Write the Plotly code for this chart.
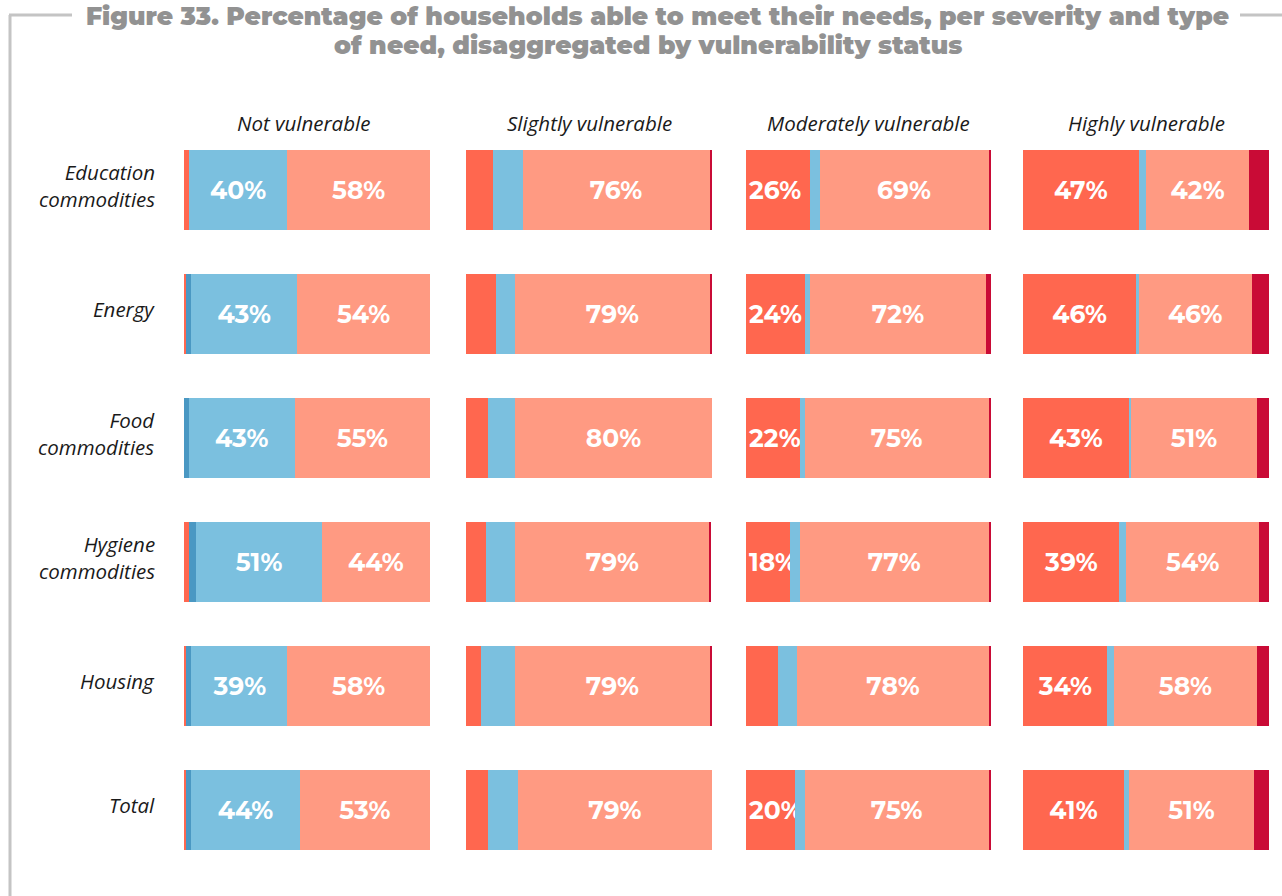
import plotly.graph_objects as go

# ---- data -------------------------------------------------------------
NEEDS = [
    "Education<br>commodities",
    "Energy",
    "Food<br>commodities",
    "Hygiene<br>commodities",
    "Housing",
    "Total",
]
GROUPS = ["Not vulnerable", "Slightly vulnerable", "Moderately vulnerable", "Highly vulnerable"]
TITLE_LINES = [
    "Figure 33. Percentage of households able to meet their needs, per severity and type",
    "of need, disaggregated by vulnerability status",
]

# one list per vulnerability group, six values (one per need) in each
unable = [
    [2, 1, 0, 2, 1, 1],
    [11, 12, 9, 8, 6, 9],
    [26, 24, 22, 18, 13, 20],
    [47, 46, 43, 39, 34, 41],
]
fully = [
    [0, 2, 2, 3, 2, 2],
    [0, 0, 0, 0, 0, 0],
    [0, 0, 0, 0, 0, 0],
    [0, 0, 0, 0, 0, 0],
]
mostly = [
    [40, 43, 43, 51, 39, 44],
    [12, 8, 11, 12, 14, 12],
    [4, 2, 2, 4, 8, 4],
    [3, 1, 1, 3, 3, 2],
]
partly = [
    [58, 54, 55, 44, 58, 53],
    [76, 79, 80, 79, 79, 79],
    [69, 72, 75, 77, 78, 75],
    [42, 46, 51, 54, 58, 51],
]
not_at_all = [
    [0, 0, 0, 0, 0, 0],
    [1, 1, 0.5, 0.5, 1, 0.5],
    [1, 2, 1, 1, 1, 1],
    [8, 7, 5, 4, 5, 6],
]

SEGMENTS = [
    ("Unable", unable, "#FF674F"),
    ("Fully", fully, "#4A98C3"),
    ("Mostly", mostly, "#7BC0DF"),
    ("Partly", partly, "#FF9A82"),
    ("Not at all", not_at_all, "#C90B36"),
]

LABEL_MIN = 15

# ---- layout helpers ---------------------------------------------------
W, H = 1282, 896
M_L, M_R, M_T, M_B = 184, 13, 128, 24
PW, PH = W - M_L - M_R, H - M_T - M_B


def px_x(px):
    return (px - M_L) / PW


def px_y(py):
    return (H - M_B - py) / PH


PANEL_PX = [(184, 430), (466, 712), (746, 991), (1023, 1269)]
italic = {"family": "Open Sans, sans-serif", "size": 20.5, "color": "#1a1a1a", "style": "italic"}

fig = go.Figure()

for g, group in enumerate(GROUPS):
    axis = "" if g == 0 else str(g + 1)
    for name, values, color in SEGMENTS:
        vals = values[g]
        shown = [v for v in vals if v >= LABEL_MIN]
        # narrow segments: labels start at the bar edge and spill right
        anchor = "start" if shown and min(shown) < 25 and name == "Unable" else "middle"
        fig.add_trace(
            go.Bar(
                x=vals,
                y=NEEDS,
                orientation="h",
                name=name,
                marker={"color": color, "line": {"width": 0}},
                text=[f"{v:.0f}%" if v >= LABEL_MIN else "" for v in vals],
                textposition="inside",
                insidetextanchor=anchor,
                textangle=0,
                constraintext="none",
                cliponaxis=False,
                textfont={"family": "Montserrat, Lato, sans-serif", "size": 25,
                          "color": "white", "weight": "bold"},
                xaxis="x" + axis,
                yaxis="y" + axis,
                showlegend=False,
                hoverinfo="skip",
            )
        )

layout = dict(
    barmode="stack",
    bargap=0.355,
    width=W,
    height=H,
    margin={"l": M_L, "r": M_R, "t": M_T, "b": M_B},
    plot_bgcolor="white",
    paper_bgcolor="white",
)

annotations = []
for g, (x0, x1) in enumerate(PANEL_PX):
    axis = "" if g == 0 else str(g + 1)
    layout["xaxis" + axis] = {
        "domain": [px_x(x0), px_x(x1)],
        "range": [0, 100],
        "visible": False,
        "fixedrange": True,
    }
    layout["yaxis" + axis] = {
        "anchor": "x" + axis,
        "autorange": "reversed",
        "showticklabels": False,
        "showgrid": False,
        "zeroline": False,
        "ticks": "",
    }
    if g:
        layout["yaxis" + axis]["matches"] = "y"
    annotations.append(
        {
            "text": GROUPS[g],
            "xref": "paper", "yref": "paper",
            "x": px_x((x0 + x1) / 2 - (4 if g == 0 else 0)), "y": px_y(123),
            "xanchor": "center", "yanchor": "middle",
            "showarrow": False,
            "font": italic,
        }
    )

# row labels
for need in NEEDS:
    annotations.append(
        {
            "text": need,
            "xref": "paper", "yref": "y",
            "x": px_x(157), "y": need,
            "xanchor": "right", "yanchor": "middle",
            "align": "right",
            "yshift": 5,
            "showarrow": False,
            "font": italic,
        }
    )

# title, one annotation per line
for i, line in enumerate(TITLE_LINES):
    annotations.append(
        {
            "text": line,
            "xref": "paper", "yref": "paper",
            "x": px_x(657 if i == 0 else 648), "y": px_y(16 + 29 * i),
            "xanchor": "center", "yanchor": "middle",
            "showarrow": False,
            "font": {"family": "Montserrat, Lato, sans-serif", "size": 25,
                     "color": "#929292", "weight": 900},
        }
    )

frame = {"color": "#c4c4c4", "width": 3}
shapes = [
    {"type": "line", "xref": "paper", "yref": "paper",
     "x0": px_x(10), "x1": px_x(10), "y0": px_y(15), "y1": px_y(H + 2), "line": frame},
    {"type": "line", "xref": "paper", "yref": "paper",
     "x0": px_x(9), "x1": px_x(72), "y0": px_y(15), "y1": px_y(15), "line": frame},
    {"type": "line", "xref": "paper", "yref": "paper",
     "x0": px_x(1240), "x1": px_x(W + 2), "y0": px_y(15), "y1": px_y(15), "line": frame},
]

layout["annotations"] = annotations
layout["shapes"] = shapes
fig.update_layout(**layout)

fig.write_html(
    "out.html",
    config={"displayModeBar": False},
    post_script="document.body.style.margin='0';",
)
